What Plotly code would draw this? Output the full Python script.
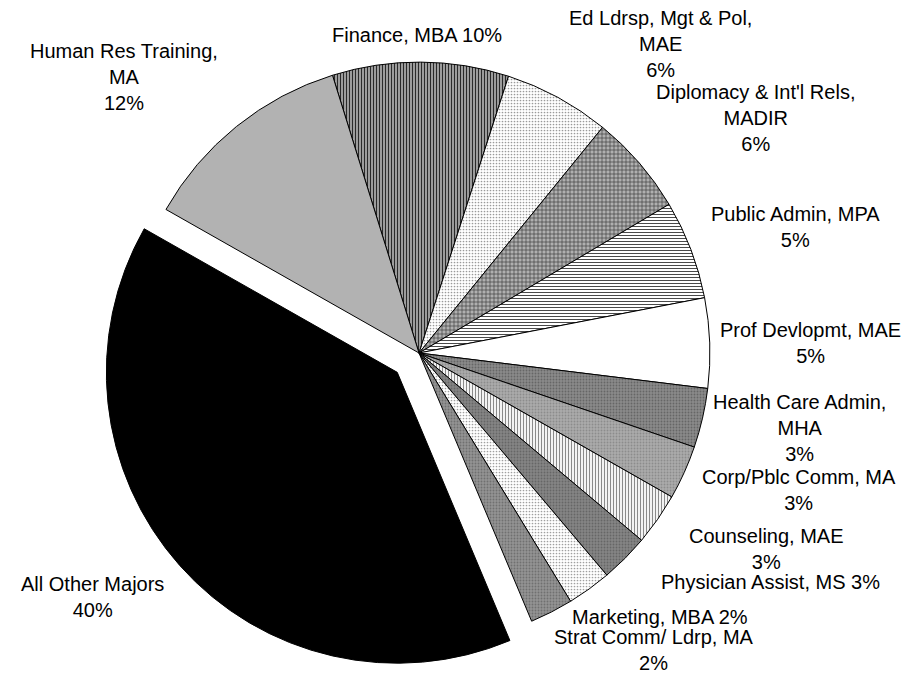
import plotly.graph_objects as go

# Share of graduate enrollment by major (percent)
majors = [
    "Finance, MBA",
    "Ed Ldrsp, Mgt & Pol, MAE",
    "Diplomacy & Int'l Rels, MADIR",
    "Public Admin, MPA",
    "Prof Devlopmt, MAE",
    "Health Care Admin, MHA",
    "Corp/Pblc Comm, MA",
    "Counseling, MAE",
    "Physician Assist, MS",
    "Marketing, MBA",
    "Strat Comm/ Ldrp, MA",
    "All Other Majors",
    "Human Res Training, MA",
]
shares = [9.8, 5.9, 5.6, 5.5, 5.0, 3.3, 3.0, 2.9, 2.7, 2.45, 2.4, 39.6, 12.0]

# Label wording as displayed (line breaks included); the percentage is appended from the data
label_text = [
    "Finance, MBA ",
    "Ed Ldrsp, Mgt & Pol,<br>MAE<br>",
    "Diplomacy & Int'l Rels,<br>MADIR<br>",
    "Public Admin, MPA<br>",
    "Prof Devlopmt, MAE<br>",
    "Health Care Admin,<br>MHA<br>",
    "Corp/Pblc Comm, MA<br>",
    "Counseling, MAE<br>",
    "Physician Assist, MS ",
    "Marketing, MBA ",
    "Strat Comm/ Ldrp, MA<br>",
    "All Other Majors<br>",
    "Human Res Training,<br>MA<br>",
]

# Where each data label sits on the page (pixel centre of the text block)
label_pos = [
    (417, 35), (660, 44), (755, 118), (795, 227), (810, 343),
    (799, 428), (799, 490), (766, 549), (770, 582), (660, 617),
    (654, 650), (92, 597), (124, 77),
]

# Monochrome fills: (background, foreground, pattern shape, size, solidity)
fills = [
    ("#a8a8a8", "#2a2a2a", "|", 3, 0.4),
    ("#ffffff", "#9a9a9a", ".", 3, 0.25),
    ("#b0b0b0", "#3a3a3a", "+", 4, 0.3),
    ("#ffffff", "#4a4a4a", "-", 3, 0.35),
    ("#ffffff", "#ffffff", "", 3, 0.3),
    ("#8a8a8a", "#666666", ".", 3, 0.3),
    ("#ababab", "#8c8c8c", ".", 3, 0.3),
    ("#ffffff", "#8a8a8a", "|", 3, 0.4),
    ("#858585", "#666666", ".", 3, 0.3),
    ("#ffffff", "#a0a0a0", ".", 3, 0.25),
    ("#939393", "#707070", ".", 3, 0.3),
    ("#000000", "#000000", "", 3, 0.3),
    ("#bababa", "#9c9c9c", "|", 2, 0.3),
]
pulls = [0, 0, 0, 0, 0, 0, 0, 0, 0, 0, 0, 0.1, 0]

W, H = 919, 676

fig = go.Figure(
    go.Pie(
        labels=majors,
        values=shares,
        textinfo="none",
        sort=False,
        direction="clockwise",
        rotation=-17.3,
        pull=pulls,
        marker=dict(
            colors=[f[0] for f in fills],
            line=dict(color="#000000", width=1),
            pattern=dict(
                shape=[f[2] for f in fills],
                bgcolor=[f[0] for f in fills],
                fgcolor=[f[1] for f in fills],
                size=[f[3] for f in fills],
                solidity=[f[4] for f in fills],
                fillmode="replace",
            ),
        ),
        domain=dict(x=[99 / W, 739 / W], y=[1 - 673 / H, 1 - 33 / H]),
        showlegend=False,
        hoverinfo="label+percent",
    )
)

total = sum(shares)
for txt, v, (px, py) in zip(label_text, shares, label_pos):
    fig.add_annotation(
        x=px / W,
        y=1 - py / H,
        xref="paper",
        yref="paper",
        text=f"{txt}{round(v / total * 100)}%",
        showarrow=False,
        xanchor="center",
        yanchor="middle",
        align="center",
        borderpad=0,
        font=dict(family="Liberation Sans, Arial, sans-serif", size=20, color="#000000"),
    )

fig.update_layout(
    width=W,
    height=H,
    margin=dict(l=0, r=0, t=0, b=0),
    paper_bgcolor="#ffffff",
    plot_bgcolor="#ffffff",
    showlegend=False,
)

fig.write_html("out.html")
